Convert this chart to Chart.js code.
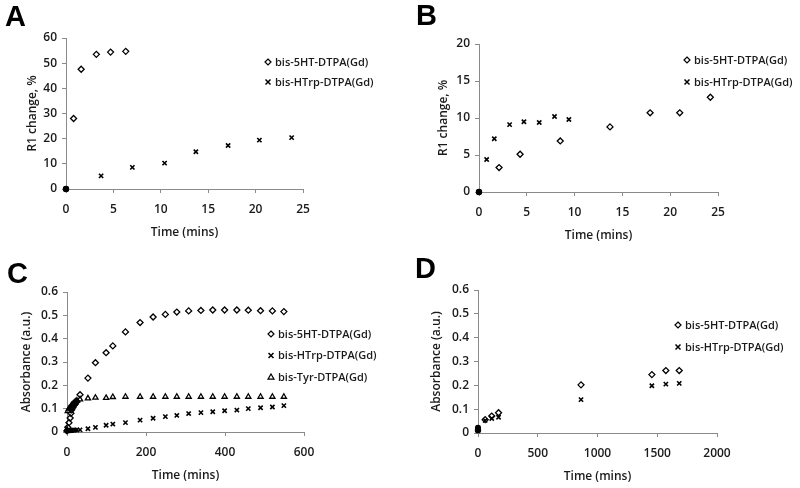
<!DOCTYPE html>
<html lang="en">
<head>
    <meta charset="utf-8">
    <script src="https://cdn.jsdelivr.net/npm/chart.js"></script>
</head>
<body>
    <div class="panel" style="left:0;top:0"><canvas id="chartA" width="400" height="244"></canvas><div class="letter" style="left:5px;top:2px">A</div></div>
    <div class="panel" style="left:400px;top:0"><canvas id="chartB" width="400" height="244"></canvas><div class="letter" style="left:16px;top:1px">B</div></div>
    <div class="panel" style="left:0;top:244px"><canvas id="chartC" width="400" height="244"></canvas><div class="letter" style="left:7px;top:15px">C</div></div>
    <div class="panel" style="left:400px;top:244px"><canvas id="chartD" width="400" height="244"></canvas><div class="letter" style="left:15px;top:10px">D</div></div>
    <script>
        // Panel A - R1 change over time
        const aTime5HT = [0, 0.8, 1.6, 3.2, 4.7, 6.3];
        const aR1_5HT = [0, 28, 47.6, 53.5, 54.4, 54.7];
        const aTimeHTrp = [0, 3.7, 7.0, 10.4, 13.7, 17.1, 20.4, 23.8];
        const aR1_HTrp = [0, 5.2, 8.6, 10.3, 14.8, 17.3, 19.4, 20.4];

        // Panel B
        const bTime5HT = [0, 2.1, 4.3, 8.5, 13.7, 17.9, 21.0, 24.2];
        const bR1_5HT = [0, 3.3, 5.1, 6.9, 8.8, 10.7, 10.7, 12.8];
        const bTimeHTrp = [0, 0.8, 1.6, 3.2, 4.7, 6.3, 7.9, 9.4];
        const bR1_HTrp = [0, 4.4, 7.2, 9.1, 9.5, 9.4, 10.2, 9.8];

        // Panel C - absorbance, three compounds share the time points
        const cTime = [0, 2, 5, 8, 10, 12, 15, 18, 21, 25, 33,
            53, 72, 99, 116, 148, 185, 218, 249, 278, 308, 339, 369, 399, 430, 459, 490, 520, 549];
        const cAbs5HT = [0.005, 0.02, 0.04, 0.06, 0.08, 0.095, 0.105, 0.115, 0.12, 0.13, 0.16,
            0.231, 0.297, 0.340, 0.369, 0.429, 0.469, 0.493, 0.504, 0.514, 0.519, 0.521, 0.523, 0.523, 0.523, 0.522, 0.520, 0.519, 0.516];
        const cAbsHTrp = [0.005, 0.005, 0.006, 0.006, 0.007, 0.007, 0.008, 0.008, 0.008, 0.009, 0.009,
            0.014, 0.020, 0.029, 0.034, 0.040, 0.051, 0.059, 0.066, 0.071, 0.079, 0.083, 0.087, 0.091, 0.094, 0.100, 0.104, 0.107, 0.113];
        const cAbsTyr = [0.01, 0.09, 0.10, 0.105, 0.11, 0.115, 0.12, 0.125, 0.13, 0.135, 0.14,
            0.144, 0.147, 0.146, 0.150, 0.151, 0.151, 0.151, 0.151, 0.151, 0.151, 0.151, 0.151, 0.151, 0.151, 0.151, 0.151, 0.151, 0.151];

        // Panel D
        const dTime = [0, 60, 115, 172, 862, 1455, 1572, 1684];
        const dAbs5HT = [0.022, 0.056, 0.071, 0.085, 0.202, 0.245, 0.262, 0.262];
        const dAbsHTrp = [0.012, 0.053, 0.061, 0.066, 0.140, 0.198, 0.205, 0.208];

        const label5HT = 'bis-5HT-DTPA(Gd)';
        const labelHTrp = 'bis-HTrp-DTPA(Gd)';
        const labelTyr = 'bis-Tyr-DTPA(Gd)';

        const textColor = '#1a1a1a';
        const axisColor = '#8a8a8a';
        const fontFamily = '"Open Sans", "Liberation Sans", sans-serif';

        function toPoints(xs, ys) {
            return xs.map((x, i) => ({ x: x, y: ys[i] }));
        }

        // origin point shows up as a filled black dot in the original
        function series(label, xs, ys, style, dotOrigin) {
            const isDot = ctx => dotOrigin && ctx.dataIndex === 0;
            return {
                label: label,
                data: toPoints(xs, ys),
                clip: false,
                pointStyle: ctx => isDot(ctx) ? 'circle' : style,
                pointRadius: ctx => isDot(ctx) ? 2.4 : 3,
                pointBackgroundColor: ctx => isDot(ctx) ? '#000' : 'rgba(0,0,0,0)',
                pointBorderColor: '#000',
                pointBorderWidth: style === 'crossRot' ? 1.6 : 1.3,
                pointHoverRadius: 3,
                showLine: false
            };
        }

        // simple legend drawn inside the plot area
        const legendPlugin = {
            id: 'innerLegend',
            afterDraw(chart, args, opts) {
                const ctx = chart.ctx;
                ctx.save();
                ctx.font = '600 11px ' + fontFamily;
                ctx.fillStyle = textColor;
                ctx.textBaseline = 'middle';
                chart.data.datasets.forEach((ds, i) => {
                    const y = opts.y + i * opts.gap;
                    const style = typeof ds.pointStyle === 'function' ? ds.pointStyle({ dataIndex: 1 }) : ds.pointStyle;
                    ctx.strokeStyle = '#000';
                    ctx.lineWidth = style === 'crossRot' ? 1.5 : 1.2;
                    ctx.beginPath();
                    const r = 3;
                    const mx = opts.x;
                    if (style === 'rectRot') {
                        ctx.moveTo(mx, y - r); ctx.lineTo(mx + r, y); ctx.lineTo(mx, y + r); ctx.lineTo(mx - r, y); ctx.closePath();
                    } else if (style === 'crossRot') {
                        ctx.moveTo(mx - r + 0.5, y - r + 0.5); ctx.lineTo(mx + r - 0.5, y + r - 0.5);
                        ctx.moveTo(mx + r - 0.5, y - r + 0.5); ctx.lineTo(mx - r + 0.5, y + r - 0.5);
                    } else {
                        ctx.moveTo(mx, y - r); ctx.lineTo(mx + r, y + r * 0.7); ctx.lineTo(mx - r, y + r * 0.7); ctx.closePath();
                    }
                    ctx.stroke();
                    ctx.fillText(ds.label, opts.x + 7, y + 0.5);
                });
                ctx.restore();
            }
        };

        function makeChart(id, datasets, cfg) {
            const ctx = document.getElementById(id).getContext('2d');
            const tickFont = { family: fontFamily, size: 12, weight: '600' };
            return new Chart(ctx, {
                type: 'scatter',
                data: { datasets: datasets },
                plugins: [legendPlugin],
                options: {
                    responsive: false,
                    animation: false,
                    layout: { padding: { top: cfg.top, right: cfg.right, left: 0, bottom: 0 } },
                    plugins: {
                        legend: { display: false },
                        tooltip: { enabled: false },
                        innerLegend: cfg.legend
                    },
                    scales: {
                        x: {
                            type: 'linear',
                            min: cfg.xMin, max: cfg.xMax,
                            ticks: { stepSize: cfg.xStep, color: textColor, font: tickFont, padding: 9, maxRotation: 0,
                                callback: v => String(v) },
                            grid: { drawOnChartArea: false, tickLength: 4, color: axisColor },
                            border: { color: axisColor, width: 1 },
                            title: { display: true, text: 'Time (mins)', color: textColor, font: tickFont, padding: { top: 0, bottom: cfg.xTitlePad } },
                            afterFit(scale) { scale.height = cfg.xHeight; }
                        },
                        y: {
                            min: cfg.yMin, max: cfg.yMax,
                            ticks: { stepSize: cfg.yStep, color: textColor, font: tickFont, padding: 5,
                                callback: v => String(Math.round(v * 10) / 10) },
                            grid: { drawOnChartArea: false, tickLength: 4, color: axisColor },
                            border: { color: axisColor, width: 1 },
                            title: { display: true, text: cfg.yTitle, color: textColor, font: tickFont, padding: { top: cfg.yTitlePad, bottom: 0 } },
                            afterFit(scale) { scale.width = cfg.yWidth; }
                        }
                    }
                }
            });
        }

        makeChart('chartA', [
            series(label5HT, aTime5HT, aR1_5HT, 'rectRot', true),
            series(labelHTrp, aTimeHTrp, aR1_HTrp, 'crossRot', true)
        ], {
            top: 38, right: 97, yWidth: 66, xHeight: 55,
            xMin: 0, xMax: 25, xStep: 5, yMin: 0, yMax: 60, yStep: 10,
            yTitle: 'R1 change, %', xTitlePad: 4, yTitlePad: 25,
            legend: { x: 268, y: 62, gap: 20 }
        });

        makeChart('chartB', [
            series(label5HT, bTime5HT, bR1_5HT, 'rectRot', true),
            series(labelHTrp, bTimeHTrp, bR1_HTrp, 'crossRot', true)
        ], {
            top: 44, right: 82, yWidth: 79, xHeight: 52,
            xMin: 0, xMax: 25, xStep: 5, yMin: 0, yMax: 20, yStep: 5,
            yTitle: 'R1 change, %', xTitlePad: 1, yTitlePad: 36,
            legend: { x: 287, y: 60, gap: 22 }
        });

        makeChart('chartC', [
            series(label5HT, cTime, cAbs5HT, 'rectRot', false),
            series(labelHTrp, cTime, cAbsHTrp, 'crossRot', false),
            series(labelTyr, cTime, cAbsTyr, 'triangle', false)
        ], {
            top: 48, right: 96, yWidth: 67, xHeight: 56,
            xMin: 0, xMax: 600, xStep: 200, yMin: 0, yMax: 0.6, yStep: 0.1,
            yTitle: 'Absorbance (a.u.)', xTitlePad: 5, yTitlePad: 19,
            legend: { x: 271, y: 90, gap: 21.5 }
        });

        makeChart('chartD', [
            series(label5HT, dTime, dAbs5HT, 'rectRot', true),
            series(labelHTrp, dTime, dAbsHTrp, 'crossRot', true)
        ], {
            top: 46, right: 83, yWidth: 78, xHeight: 55,
            xMin: 0, xMax: 2000, xStep: 500, yMin: 0, yMax: 0.6, yStep: 0.1,
            yTitle: 'Absorbance (a.u.)', xTitlePad: 4, yTitlePad: 29,
            legend: { x: 278, y: 81, gap: 22 }
        });
    </script>
    <style>
        body {
            margin: 0;
            padding: 0;
            background-color: #ffffff;
            width: 800px;
            height: 488px;
            position: relative;
            overflow: hidden;
        }

        .panel {
            position: absolute;
            width: 400px;
            height: 244px;
        }

        .panel canvas {
            display: block;
        }

        .letter {
            position: absolute;
            font-family: "Liberation Sans", Arial, sans-serif;
            font-weight: bold;
            font-size: 29px;
            line-height: 29px;
            color: #000;
        }
    </style>
</body>
</html>
